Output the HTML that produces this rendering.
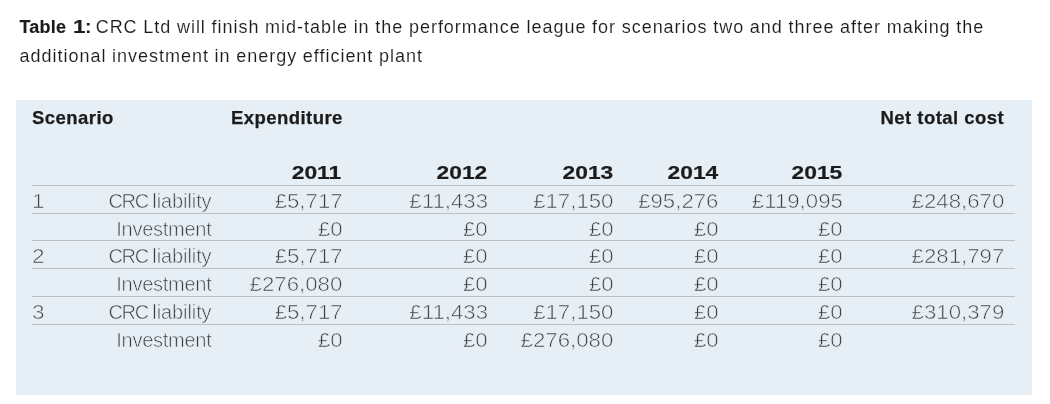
<!DOCTYPE html>
<html lang="en">
<head>
<meta charset="utf-8">
<title>Table 1</title>
<style>
html,body{margin:0;padding:0;background:#fff;}
body{width:1050px;height:404px;position:relative;overflow:hidden;font-family:"Liberation Sans",sans-serif;}
.cap{position:absolute;left:19.5px;top:13px;width:1020px;font-size:18px;line-height:29px;color:#1b1b1b;white-space:nowrap;letter-spacing:0.98px;word-spacing:-0.3px;-webkit-text-stroke:0.12px #fff;}
.cap b{color:#1c1c1c;font-weight:bold;letter-spacing:0.2px;word-spacing:1.7px;margin-right:-1.5px;-webkit-text-stroke:0.15px #1c1c1c;}
.panel{position:absolute;left:16px;top:100px;width:1016px;height:295px;background:#e6eff5;}
.h{position:absolute;font-weight:bold;font-size:18.5px;line-height:28px;color:#1c1c1c;white-space:nowrap;letter-spacing:0.45px;-webkit-text-stroke:0.25px #1c1c1c;}
.y{position:absolute;font-weight:bold;font-size:19px;line-height:28px;color:#1c1c1c;white-space:nowrap;text-align:right;transform:scaleX(1.2);transform-origin:100% 50%;-webkit-text-stroke:0.2px #1c1c1c;}
.row{position:absolute;left:32px;width:983px;height:27px;border-top:1px solid #bdc1c5;}
.row span{position:absolute;top:0.6px;font-size:19.5px;line-height:28px;color:#3b3e42;white-space:nowrap;text-align:right;-webkit-text-stroke:0.6px #e6eff5;transform-origin:100% 50%;}
.row .n{left:-0.5px;text-align:left;transform:scaleX(1.16);transform-origin:0 50%;}
.row .l{right:803.5px;font-size:20px;letter-spacing:-0.1px;word-spacing:-1.2px;}
.row .v{letter-spacing:-0.26px;}
.row .l i{font-style:normal;letter-spacing:-1.2px;}
.row .c{transform:scaleX(1.14);}
</style>
</head>
<body>
<div class="cap"><b>Table <span style="display:inline-block;transform:scaleX(1.25);transform-origin:0 50%;margin-right:2.2px;letter-spacing:0">1</span>:</b> CRC Ltd will finish mid-table in the performance league for scenarios two and three after making the<br>additional investment in energy efficient plant</div>
<div class="panel"></div>
<div class="h" style="left:32px;top:103.7px;">Scenario</div>
<div class="h" style="left:231px;top:103.7px;">Expenditure</div>
<div class="h" style="right:46px;top:103.7px;">Net total cost</div>

<div class="y" style="right:709px;top:159.3px;">2011</div>
<div class="y" style="right:563px;top:159.3px;">2012</div>
<div class="y" style="right:437px;top:159.3px;">2013</div>
<div class="y" style="right:332px;top:159.3px;">2014</div>
<div class="y" style="right:208px;top:159.3px;">2015</div>

<div class="row" style="top:185px;"><span class="n">1</span><span class="l"><i>CRC</i> liability</span><span class="c" style="right:672.5px">£5,717</span><span class="c" style="right:527px">£11,433</span><span class="c" style="right:401.3px">£17,150</span><span class="c" style="right:296.8px">£95,276</span><span class="c" style="right:172.6px">£119,095</span><span class="c" style="right:11px">£248,670</span></div>
<div class="row" style="top:213px;"><span class="l v">Investment</span><span class="c" style="right:672.5px">£0</span><span class="c" style="right:527px">£0</span><span class="c" style="right:401.3px">£0</span><span class="c" style="right:296.8px">£0</span><span class="c" style="right:172.6px">£0</span></div>
<div class="row" style="top:240px;"><span class="n">2</span><span class="l"><i>CRC</i> liability</span><span class="c" style="right:672.5px">£5,717</span><span class="c" style="right:527px">£0</span><span class="c" style="right:401.3px">£0</span><span class="c" style="right:296.8px">£0</span><span class="c" style="right:172.6px">£0</span><span class="c" style="right:11px">£281,797</span></div>
<div class="row" style="top:268px;"><span class="l v">Investment</span><span class="c" style="right:672.5px">£276,080</span><span class="c" style="right:527px">£0</span><span class="c" style="right:401.3px">£0</span><span class="c" style="right:296.8px">£0</span><span class="c" style="right:172.6px">£0</span></div>
<div class="row" style="top:296px;"><span class="n">3</span><span class="l"><i>CRC</i> liability</span><span class="c" style="right:672.5px">£5,717</span><span class="c" style="right:527px">£11,433</span><span class="c" style="right:401.3px">£17,150</span><span class="c" style="right:296.8px">£0</span><span class="c" style="right:172.6px">£0</span><span class="c" style="right:11px">£310,379</span></div>
<div class="row" style="top:324px;"><span class="l v">Investment</span><span class="c" style="right:672.5px">£0</span><span class="c" style="right:527px">£0</span><span class="c" style="right:401.3px">£276,080</span><span class="c" style="right:296.8px">£0</span><span class="c" style="right:172.6px">£0</span></div>
</body>
</html>
